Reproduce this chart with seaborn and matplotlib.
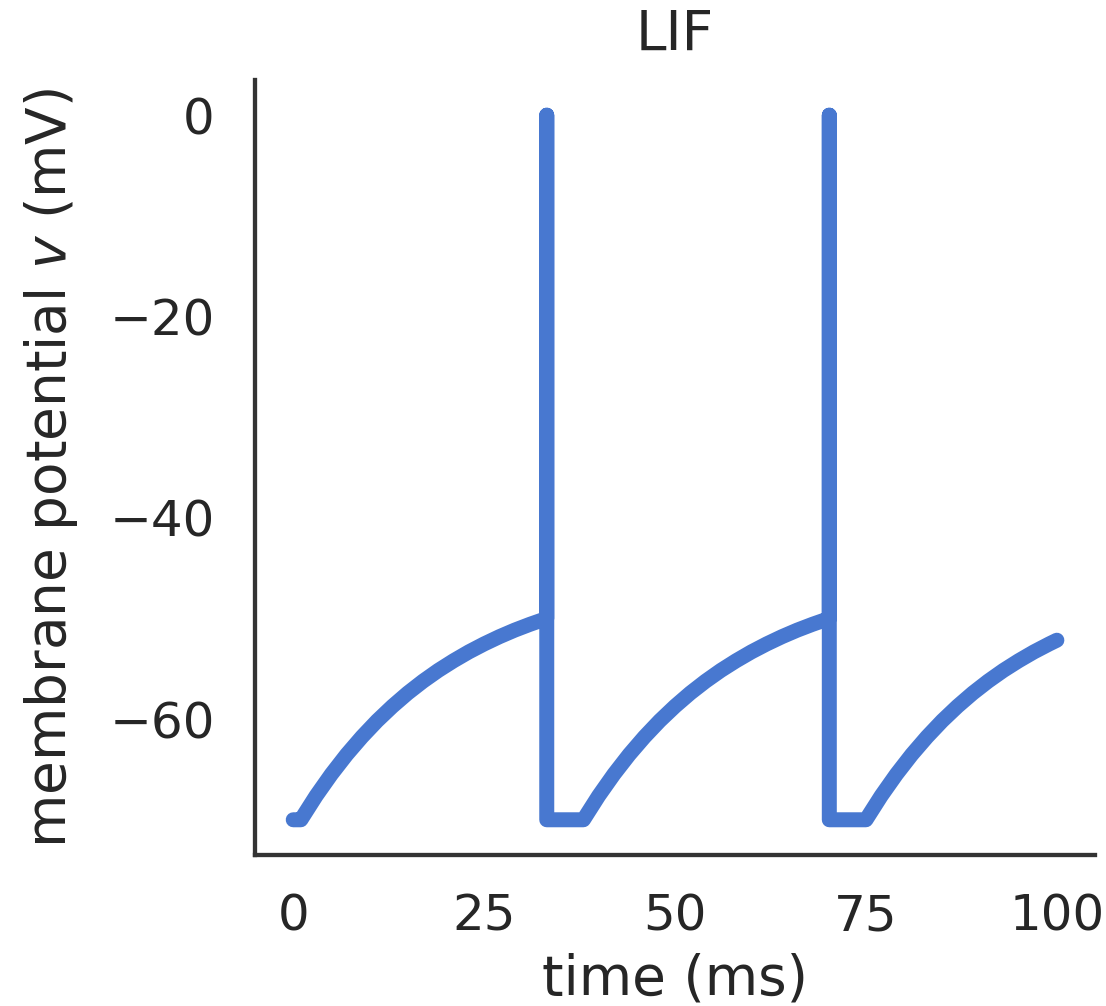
import matplotlib
matplotlib.use("Agg")
import matplotlib.pyplot as plt
import numpy as np
import pandas as pd
import seaborn as sns

# Membrane potential trace of a leaky integrate-and-fire neuron (ms, mV)
time_seg1 = [0, 1, 3, 5, 7, 9, 11, 13, 15, 17, 19, 21, 23, 25, 27, 29, 31, 33, 33.2, 33.2, 33.2]
v_seg1 = [-70, -70, -67.62, -65.47, -63.52, -61.76, -60.16, -58.72, -57.41, -56.23, -55.16,
          -54.20, -53.32, -52.53, -51.81, -51.16, -50.58, -50.05, -50.0, 0.0, -70]

time_seg2 = [38, 40, 42, 44, 46, 48, 50, 52, 54, 56, 58, 60, 62, 64, 66, 68, 70, 70.2, 70.2, 70.2]
v_seg2 = [-70, -67.62, -65.47, -63.52, -61.76, -60.16, -58.72, -57.41, -56.23, -55.16,
          -54.20, -53.32, -52.53, -51.81, -51.16, -50.58, -50.05, -50.0, 0.0, -70]

time_seg3 = [75, 77, 79, 81, 83, 85, 87, 89, 91, 93, 95, 97, 99, 100]
v_seg3 = [-70, -67.62, -65.47, -63.52, -61.76, -60.16, -58.72, -57.41, -56.23, -55.16,
          -54.20, -53.32, -52.53, -52.16]

x_ticks = [0, 25, 50, 75, 100]
y_ticks = [0, -20, -40, -60]

df = pd.DataFrame({
    "time": time_seg1 + time_seg2 + time_seg3,
    "v": v_seg1 + v_seg2 + v_seg3,
})

sns.set_theme(style="white")
plt.rcParams["mathtext.fontset"] = "dejavusans"
text_color = ".15"

fig = plt.figure(figsize=(11.06, 10.06), dpi=100)
ax = fig.add_axes([0.2306, 0.1501, 0.7595, 0.7704])

sns.lineplot(data=df, x="time", y="v", estimator=None, sort=False,
             color="#4878d0", linewidth=10.8, ax=ax,
             solid_capstyle="round", solid_joinstyle="round")

ax.set_xticks(x_ticks)
ax.set_yticks(y_ticks)
ax.tick_params(axis="both", length=0, labelsize=36, colors=text_color)
ax.tick_params(axis="x", pad=27)
ax.tick_params(axis="y", pad=29)
ax.set_xlabel("time (ms)", fontsize=39.5, color=text_color, labelpad=8.5)
ax.set_ylabel("membrane potential $v$ (mV)", fontsize=39.5, color=text_color, labelpad=21)
ax.set_title("LIF", fontsize=39.5, color=text_color, pad=22)

sns.despine(ax=ax)
for side in ("left", "bottom"):
    ax.spines[side].set_linewidth(3.1)
    ax.spines[side].set_color(".2")

fig.savefig("out.png", dpi=100)
